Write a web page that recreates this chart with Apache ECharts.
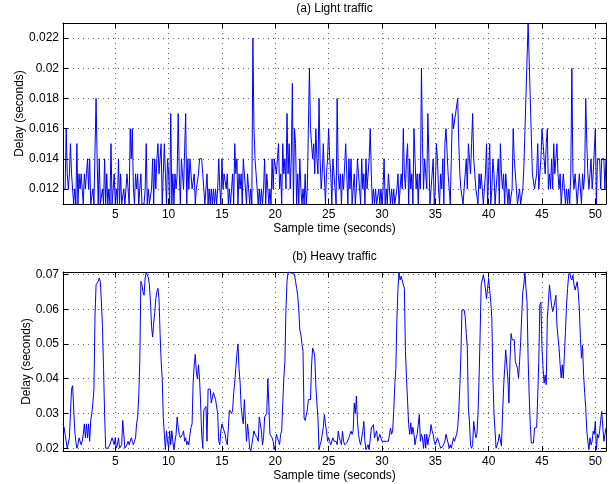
<!DOCTYPE html>
<html><head><meta charset="utf-8">
<script src="https://cdn.jsdelivr.net/npm/echarts@6/dist/echarts.min.js"></script>
<style>html,body{margin:0;padding:0;background:#fff}#c{width:611px;height:484px}</style>
</head><body><div id="c"></div>
<script>
// Sample times: every 0.1 s starting at 0.1 s
const sampleStart = 0.1, sampleStep = 0.1;
// Light traffic delay, milliseconds (one row per second)
const lightMs = [
12,12,12,16,13,12,13,15,13,13,
11,12,11,15,11,13,12,13,12,11,
13,12,13,14,12,14,11,11,12,11,
11,18,14,11,14,11,11,12,11,14,
11,13,11,12,11,15,11,12,13,11,
12,11,14,11,13,11,11,12,11,11,
13,12,11,16,14,16,12,11,13,12,
13,11,12,13,11,11,11,12,15,11,
12,11,11,12,14,11,14,12,14,15,
13,14,15,11,13,15,13,11,14,13,
11,17,11,13,11,13,12,13,17,13,
11,14,13,12,12,17,11,14,12,14,
14,12,12,13,11,12,12,13,14,14,
14,13,12,11,12,13,11,12,11,12,
11,12,11,12,11,12,14,12,11,14,
12,13,13,12,13,11,12,11,12,13,
11,15,13,14,11,13,12,13,11,14,
13,12,11,13,12,11,12,11,22,16,
14,13,12,11,12,11,12,11,12,14,
11,13,12,11,12,11,14,12,14,14,
13,14,15,12,13,11,15,13,14,12,
17,13,15,12,14,19,11,16,15,11,
13,11,14,12,11,12,11,13,11,12,
16,20,16,15,14,15,13,16,14,13,
18,14,12,13,15,13,11,13,14,16,
14,13,11,14,13,12,11,18,13,12,
13,11,13,12,12,15,13,11,14,12,
14,11,12,13,11,12,14,13,12,11,
14,12,13,11,14,12,13,14,16,13,
11,12,11,12,11,11,12,11,12,11,
12,14,11,12,11,13,12,11,12,11,
12,11,11,12,13,11,12,13,12,16,
13,12,14,15,11,14,12,13,11,16,
14,12,13,11,13,12,20,15,12,14,
13,12,17,14,11,12,13,14,11,12,
15,14,12,11,13,12,14,11,15,16,
16,13,12,11,14,17,16,16,17,17,
18,15,13,12,12,11,12,12,14,12,
15,14,13,15,17,14,13,12,12,11,
13,12,13,12,11,12,13,15,11,13,
15,11,12,14,13,11,12,12,14,11,
15,13,12,13,11,13,12,11,12,11,
11,12,16,14,13,12,11,11,12,11,
11,12,13.4,15.8,18.2,20.6,23,20.5,18,15.5,
13,13,12,12,13,15,12,13,14,16,
15,14,13,15,16,12,13,12,14,12,
15,13,14,15,13,12,13,11,12,13,
12,11,12,11,12,11,13,20,13,12,
13,12,11,12,13,12,11,13,12,13,
18,15,13,12,13,14,12,13,13,16,
11,14,14,14,12,14,14,14,12,14
];
// Heavy traffic delay, milliseconds (one row per second)
const heavyMs = [
27,26,24,22,20,20,23,30,37,38,
38,25,22,20,21,23,22,21,22,24,
27,23,27,23,27,22,28,30,33,37,
58,67,67,68,69,68,62,55,43,30,
20,20,20,20,21,22,23,22,21,23,
20,21,23,20,20,21,28,24,20,19.5,
21,22,21,21,23,22,21,22,23,27,
29,35,45,68,67,65,64,69,70.7,70.5,
69,67,62,55,52,56,59,63,65,66,
63,53,45,40,29,24,19.6,25,22,20,
25,21,25,22,19.5,22,24,29,26,24,
23,23,24,25,22,23,21,22,21,24,
26,27,39,44,47,42,40,44,40,33,
24,20,31,31,32,22,37,37,37,33,
33,36,35,34,34,30,22,21,25,27,
27,25,24,22,21,21,31,31,30,31,
36,39,43,47,50,43,39,32,29,27,
34,28,22,27,24,20,19.2,21,23,25,
24,24,23,22,29,27,25,21,23,29,
29,30,40,32,24,24,23,22,19.6,21,
24,23,22,21,24,25,33,40,45,60,
68,70.7,70.3,70.5,70.7,70.3,70.3,70,68,66,
64,60,54,52.6,50,47.8,28.7,28,27.7,31,
34,34,34,44,48.8,48,46.4,38,33,28.7,
19.6,21,22,24,26,29.7,27,24.9,22,23,
22,21,22,23,22,21.5,22,21,24.9,23,
22,21,24.9,22,21,21,21.5,22,23,24,
24.9,24,25,33,30,35,28,24,22,21,
23,24.9,27.7,22,19.6,20,21,19.6,20,25.8,
26,26.8,23,24,25,22,23,24,23,22,
22,22,22,22,22.5,22,22,25.8,24,25,
30.6,38,43,57.4,66,70.6,68.4,69.5,69.3,67,
66,47.8,40,33.5,26.8,24,27.3,24,26,24,
21,23,24,26.8,29.7,22,24,23,20,24,
20,24,21,23,24,26.8,25,24,22,21,
21,23,22,21,20,19.6,20.5,21,22,24,
24,21.5,20,21,20,21.5,23,22,21.5,24,
26,30.6,38,46.9,59.8,60,59.8,57.9,53,48.8,
31.6,27.7,21,20,21,27.7,25,23,24,29.7,
40,52.6,67,67,69.8,68.4,68.4,63,66,68.9,
68.9,62,57.4,40.2,30,24.9,20,21,22,24,
24,20.6,29.7,37.3,43,48.3,48.8,40,33,45,
53,51.2,51.2,51.2,45,44,43,40.2,45,50.7,
58,65,67,70.6,66,62,45.9,35,26.8,21.5,
21.5,21.5,25.8,26,26,35,45,61.2,62,48.8,
43,38.7,41.1,38.3,57.4,62,67,64,61,59.3,
59.8,62,64,55.5,52,48.8,44,40.2,44,40.2,
47,53.6,61.2,66,69.8,70.7,69,68.4,69.8,67,
65.5,66,67.9,65,60,51.6,45.9,49.7,41.1,36,
31.6,25,22,19.6,23,21,22,24.9,24,27.7,
19.6,24,23,24.9,28,30.6,30.6,22,24,25.8
];
const xTicks = [5,10,15,20,25,30,35,40,45,50];
const xRange = [0.1, 51.0];
const lightYTicks = [0.012,0.014,0.016,0.018,0.02,0.022];
const lightYRange = [0.011, 0.023];
const heavyYTicks = [0.02,0.03,0.04,0.05,0.06,0.07];
const heavyYRange = [0.0192, 0.0707];
const titles = ['(a) Light traffic', '(b) Heavy traffic'];
const xName = 'Sample time (seconds)';
const yName = 'Delay (seconds)';

const FONT = "'Liberation Sans', Arial, Helvetica, sans-serif";
const FS = 12;
function toPairs(ms) { return ms.map((v, i) => [+(sampleStart + i * sampleStep).toFixed(1), v / 1000]); }
const fmt = v => String(+(+v).toFixed(4));
const gridLine = { show: true, lineStyle: { color: '#666', width: 1, type: [1, 4] } };

function xAxes(gi) {
  return [
    { type: 'value', gridIndex: gi, min: xRange[0], max: xRange[1], position: 'bottom',
      name: xName, nameLocation: 'middle', nameGap: 19, nameMoveOverlap: false,
      nameTextStyle: { color: '#000', fontFamily: FONT, fontSize: FS },
      axisLine: { show: true, onZero: false, lineStyle: { color: '#000', width: 1 } },
      axisTick: { show: true, inside: true, length: 5, customValues: xTicks, lineStyle: { color: '#000' } },
      axisLabel: { customValues: xTicks, margin: 5, color: '#000', fontFamily: FONT, fontSize: FS, formatter: fmt },
      splitLine: gridLine },
    { type: 'value', gridIndex: gi, min: xRange[0], max: xRange[1], position: 'top',
      axisLine: { show: true, onZero: false, lineStyle: { color: '#000', width: 1 } },
      axisTick: { show: true, inside: true, length: 5, customValues: xTicks, lineStyle: { color: '#000' } },
      axisLabel: { show: false }, splitLine: { show: false } }
  ];
}
function yAxes(gi, range, ticks, gap) {
  return [
    { type: 'value', gridIndex: gi, min: range[0], max: range[1], position: 'left',
      name: yName, nameLocation: 'middle', nameGap: gap, nameRotate: 90, nameMoveOverlap: false,
      nameTextStyle: { color: '#000', fontFamily: FONT, fontSize: FS },
      axisLine: { show: true, onZero: false, lineStyle: { color: '#000', width: 1 } },
      axisTick: { show: true, inside: true, length: 5, customValues: ticks, lineStyle: { color: '#000' } },
      axisLabel: { customValues: ticks, margin: 4, color: '#000', fontFamily: FONT, fontSize: FS, formatter: fmt },
      splitLine: gridLine },
    { type: 'value', gridIndex: gi, min: range[0], max: range[1], position: 'right',
      axisLine: { show: true, onZero: false, lineStyle: { color: '#000', width: 1 } },
      axisTick: { show: true, inside: true, length: 5, customValues: ticks, lineStyle: { color: '#000' } },
      axisLabel: { show: false }, splitLine: { show: false } }
  ];
}

const chart = echarts.init(document.getElementById('c'), null, { renderer: 'canvas' });
chart.setOption({
  animation: false,
  backgroundColor: '#fff',
  grid: [
    { left: 63, top: 23, width: 543, height: 181 },
    { left: 63, top: 272, width: 543, height: 179 }
  ],
  xAxis: [...xAxes(0), ...xAxes(1)],
  yAxis: [...yAxes(0, lightYRange, lightYTicks, 37), ...yAxes(1, heavyYRange, heavyYTicks, 30)],
  graphic: [
    { type: 'text', x: 334.5, y: 9, style: { text: titles[0], fill: '#000', font: FS + 'px ' + FONT, textAlign: 'center', textVerticalAlign: 'middle' } },
    { type: 'text', x: 334.5, y: 257, style: { text: titles[1], fill: '#000', font: FS + 'px ' + FONT, textAlign: 'center', textVerticalAlign: 'middle' } }
  ],
  series: [
    { type: 'line', xAxisIndex: 0, yAxisIndex: 0, data: toPairs(lightMs), showSymbol: false, symbol: 'none',
      lineStyle: { color: '#0000ff', width: 1 }, clip: true, silent: true },
    { type: 'line', xAxisIndex: 2, yAxisIndex: 2, data: toPairs(heavyMs), showSymbol: false, symbol: 'none',
      lineStyle: { color: '#0000ff', width: 1 }, clip: true, silent: true }
  ]
});
</script></body></html>
